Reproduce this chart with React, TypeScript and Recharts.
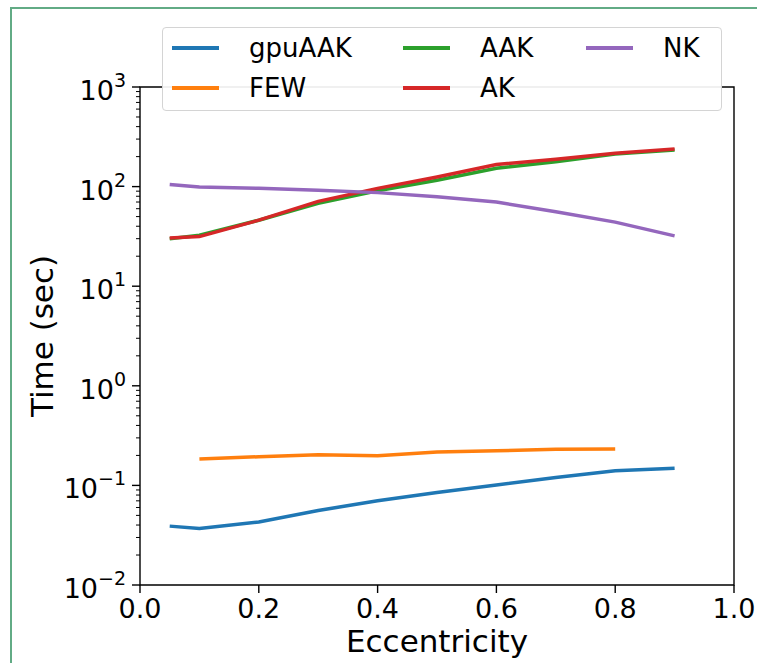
import React from 'react';
import { LineChart, Line, XAxis, YAxis, Legend, ReferenceArea, Label } from 'recharts';

const eccentricity = [0.05, 0.1, 0.2, 0.3, 0.4, 0.5, 0.6, 0.7, 0.8, 0.9];
const gpuAAK = [0.039, 0.037, 0.043, 0.056, 0.07, 0.085, 0.101, 0.12, 0.14, 0.149];
const FEW = [null, 0.184, 0.194, 0.203, 0.199, 0.216, 0.223, 0.23, 0.232, null];
const AAK = [30, 32.5, 46, 68, 91, 116, 153, 178, 212, 233];
const AK = [30.5, 31.5, 46, 71, 96, 125, 167, 188, 216, 238];
const NK = [105, 99, 96, 92, 87, 79, 70, 56, 44, 32];

const xTicks = [0, 0.2, 0.4, 0.6, 0.8, 1.0];
const yMajorTicks = [0.01, 0.1, 1, 10, 100, 1000];
const yMinorMultipliers = [2, 3, 4, 5, 6, 7, 8, 9];
const yTicks = [
  ...yMajorTicks,
  ...yMajorTicks.slice(0, -1).flatMap((m) => yMinorMultipliers.map((k) => +(k * m).toPrecision(3))),
];

const seriesNames = ['gpuAAK', 'FEW', 'AAK', 'AK', 'NK'];
const seriesColors = ['#1f77b4', '#ff7f0e', '#2ca02c', '#d62728', '#9467bd'];
const seriesValues = [gpuAAK, FEW, AAK, AK, NK];
const legendColumns = [['gpuAAK', 'FEW'], ['AAK', 'AK'], ['NK']];

const data = eccentricity.map((e, i) => {
  const row: Record<string, number | null> = { e };
  seriesNames.forEach((n, j) => {
    row[n] = seriesValues[j][i];
  });
  return row;
});

const FONT = '"DejaVu Sans", sans-serif';
const FS = 27;
const LABEL_FS = 31;

const YTick = (props: any) => {
  const { x, y, payload } = props;
  const v = payload.value;
  const lg = Math.log10(v);
  const exp = Math.round(lg);
  const isMajor = Math.abs(lg - exp) < 1e-6;
  if (!isMajor) {
    return <line x1={x - 4} x2={x} y1={y} y2={y} stroke="#000" strokeWidth={1} />;
  }
  const expStr = exp < 0 ? '\u2212' + -exp : String(exp);
  return (
    <g>
      <line x1={x - 8} x2={x} y1={y} y2={y} stroke="#000" strokeWidth={1.4} />
      <text x={x - 14} y={y + 13} textAnchor="end" fontFamily={FONT} fontSize={FS} fill="#000">
        10
        <tspan dy={-13} fontSize={19}>{expStr}</tspan>
      </text>
    </g>
  );
};

const XTick = (props: any) => {
  const { x, y, payload } = props;
  return (
    <g>
      <line x1={x} x2={x} y1={y} y2={y + 8} stroke="#000" strokeWidth={1.4} />
      <text x={x} y={y + 33} textAnchor="middle" fontFamily={FONT} fontSize={FS} fill="#000">
        {Number(payload.value).toFixed(1)}
      </text>
    </g>
  );
};

const LegendBox = () => {
  const colWidths = [231, 183, 130];
  return (
    <div
      style={{
        width: 549,
        height: 82,
        border: '1px solid #d4d4d4',
        borderRadius: 4,
        background: 'rgba(255,255,255,0.92)',
        display: 'flex',
        paddingLeft: 9,
        boxSizing: 'content-box',
        fontFamily: FONT,
        fontSize: 26,
        color: '#000',
      }}
    >
      {legendColumns.map((col, ci) => (
        <div key={ci} style={{ width: colWidths[ci], display: 'flex', flexDirection: 'column' }}>
          {col.map((name) => {
            const color = seriesColors[seriesNames.indexOf(name)];
            return (
              <div key={name} style={{ height: 40, display: 'flex', alignItems: 'center' }}>
                <div style={{ width: 47, height: 4, background: color, marginRight: 30 }} />
                <span style={{ lineHeight: '26px' }}>{name}</span>
              </div>
            );
          })}
        </div>
      ))}
    </div>
  );
};

export default function App() {
  return (
    <div style={{ position: 'absolute', left: 0, top: 0, width: 757, height: 663, background: '#fff', overflow: 'hidden' }}>
      <div
        style={{
          position: 'absolute',
          left: 10,
          top: 7,
          width: 760,
          height: 670,
          borderLeft: '2px solid #62ab85',
          borderTop: '2px solid #62ab85',
        }}
      />
      <div style={{ position: 'absolute', left: 0, top: 0 }}>
        <LineChart width={757} height={663} data={data} margin={{ top: 87, right: 23, bottom: 0, left: 0 }}>
          <XAxis
            dataKey="e"
            type="number"
            domain={[0, 1]}
            ticks={xTicks}
            allowDataOverflow
            axisLine={false}
            tickLine={false}
            tickSize={0}
            tickMargin={0}
            height={78}
            tick={<XTick />}
            interval={0}
          >
            <Label
              content={() => (
                <text x={437} y={652} textAnchor="middle" fontFamily={FONT} fontSize={LABEL_FS} fill="#000">
                  Eccentricity
                </text>
              )}
            />
          </XAxis>
          <YAxis
            type="number"
            scale="log"
            domain={[0.01, 1000]}
            ticks={yTicks}
            allowDataOverflow
            axisLine={false}
            tickLine={false}
            tickSize={0}
            tickMargin={0}
            width={140}
            tick={<YTick />}
            interval={0}
          >
            <Label
              content={() => (
                <text
                  x={53}
                  y={336}
                  textAnchor="middle"
                  fontFamily={FONT}
                  fontSize={LABEL_FS}
                  fill="#000"
                  transform="rotate(-90 53 336)"
                >
                  Time (sec)
                </text>
              )}
            />
          </YAxis>
          <ReferenceArea
            x1={0}
            x2={1}
            y1={0.01}
            y2={1000}
            fill="none"
            fillOpacity={0}
            stroke="#000"
            strokeWidth={1.4}
            ifOverflow="visible"
          />
          {seriesNames.map((n, j) => (
            <Line
              key={n}
              dataKey={n}
              name={n}
              stroke={seriesColors[j]}
              strokeWidth={3.5}
              dot={false}
              type="linear"
              isAnimationActive={false}
            />
          ))}
          <Legend
            layout="horizontal"
            verticalAlign="middle"
            align="center"
            wrapperStyle={{ top: 27, left: 162, width: 560, height: 84 }}
            content={() => <LegendBox />}
          />
        </LineChart>
      </div>
    </div>
  );
}
